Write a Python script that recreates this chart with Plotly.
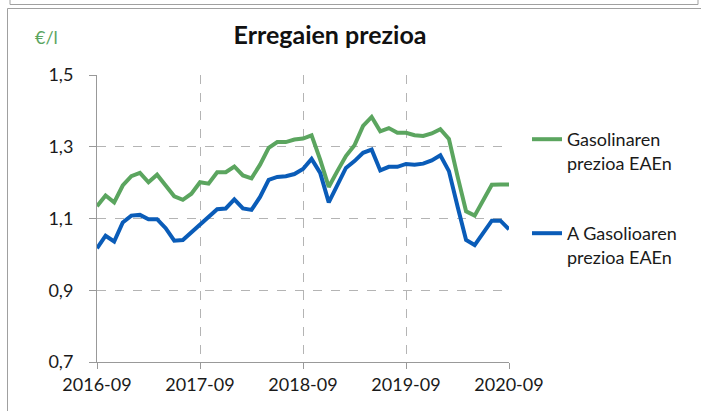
import plotly.graph_objects as go

months = [f"{2016 + (8 + i) // 12}-{(8 + i) % 12 + 1:02d}" for i in range(49)]
tick_labels = ["2016-09", "2017-09", "2018-09", "2019-09", "2020-09"]

gasolina = [1.134, 1.164, 1.145, 1.192, 1.218, 1.227, 1.201, 1.222, 1.192, 1.162,
            1.152, 1.169, 1.201, 1.197, 1.229, 1.229, 1.245, 1.220, 1.212, 1.250,
            1.297, 1.313, 1.313, 1.320, 1.323, 1.332, 1.264, 1.188, 1.232, 1.274,
            1.304, 1.358, 1.383, 1.343, 1.352, 1.339, 1.339, 1.332, 1.330, 1.337,
            1.349, 1.322, 1.218, 1.120, 1.108, 1.152, 1.194, 1.195, 1.195]
gasolioa = [1.017, 1.052, 1.036, 1.089, 1.108, 1.110, 1.098, 1.098, 1.073, 1.038,
            1.040, 1.061, 1.084, 1.104, 1.126, 1.128, 1.153, 1.128, 1.124, 1.160,
            1.208, 1.216, 1.218, 1.224, 1.238, 1.266, 1.227, 1.145, 1.192, 1.241,
            1.260, 1.283, 1.292, 1.234, 1.244, 1.244, 1.252, 1.250, 1.253, 1.262,
            1.276, 1.232, 1.134, 1.040, 1.026, 1.062, 1.094, 1.094, 1.070]

GREEN = "#5ba55f"
BLUE = "#0a5cb8"
FONT = "Lato"

idx = list(range(len(months)))
tick_idx = [months.index(t) for t in tick_labels]

fig = go.Figure()
fig.add_trace(go.Scatter(x=idx, y=gasolina, mode="lines",
                         name="Gasolinaren<br>prezioa EAEn", showlegend=True,
                         line=dict(color=GREEN, width=4), legend="legend"))
fig.add_trace(go.Scatter(x=idx, y=gasolioa, mode="lines",
                         name="A Gasolioaren<br>prezioa EAEn", showlegend=True,
                         line=dict(color=BLUE, width=4), legend="legend2"))

grid = dict(showgrid=True, gridcolor="#b4b4b4", gridwidth=1, griddash="dash")

L, T, W, H = 97, 75, 412, 287


def px(x):
    return (x - L) / W


def py(y):
    return 1 - (y - T) / H


fig.update_layout(
    width=701, height=411,
    margin=dict(l=L, r=701 - L - W, t=T, b=411 - T - H),
    paper_bgcolor="white", plot_bgcolor="white",
    separators=",.",
    showlegend=True,
    font=dict(family=FONT, size=18, color="#1a1a1a"),
    title=dict(text="<b>Erregaien prezioa</b>", x=330 / 701, xanchor="center",
               y=1 - 35 / 411, yanchor="middle",
               font=dict(family=FONT, size=25, color="#111111")),
    xaxis=dict(range=[0, 48], automargin=False,
               tickmode="array", tickvals=tick_idx, ticktext=tick_labels,
               ticks="outside", ticklen=6, tickcolor="#999999",
               showline=True, linecolor="#999999", linewidth=1, zeroline=False,
               tickfont=dict(size=18), **grid),
    yaxis=dict(range=[0.7, 1.5], dtick=0.2, tick0=0.7, tickformat=".1f",
               automargin=False, ticklabelstandoff=12,
               ticks="outside", ticklen=7, tickcolor="#999999",
               showline=True, linecolor="#999999", linewidth=1,
               zeroline=False, tickfont=dict(size=18), **grid),
    legend=dict(x=px(527), y=py(121), xanchor="left", yanchor="top",
                valign="top", font=dict(size=18), bgcolor="rgba(0,0,0,0)"),
    legend2=dict(x=px(527), y=py(215), xanchor="left", yanchor="top",
                 valign="top", font=dict(size=18), bgcolor="rgba(0,0,0,0)"),
    annotations=[dict(text="€/l", xref="paper", yref="paper",
                      x=px(46), y=py(37),
                      xanchor="center", yanchor="middle", showarrow=False,
                      font=dict(family=FONT, size=18, color=GREEN))],
    shapes=[
        dict(type="line", xref="paper", yref="paper", layer="above",
             x0=px(10), x1=px(698), y0=py(4.5), y1=py(4.5),
             line=dict(color="#a0a0a0", width=1)),
        dict(type="line", xref="paper", yref="paper",
             x0=px(10), x1=px(10), y0=py(4.5), y1=py(0),
             line=dict(color="#a0a0a0", width=1)),
        dict(type="line", xref="paper", yref="paper",
             x0=px(698), x1=px(698), y0=py(4.5), y1=py(0),
             line=dict(color="#a0a0a0", width=1)),
        dict(type="line", xref="paper", yref="paper",
             x0=px(7.5), x1=px(701), y0=py(8.5), y1=py(8.5),
             line=dict(color="#a0a0a0", width=1)),
        dict(type="line", xref="paper", yref="paper",
             x0=px(7.5), x1=px(7.5), y0=py(8.5), y1=py(411),
             line=dict(color="#a0a0a0", width=1)),
    ],
)

fig.write_html("out.html", config={"displayModeBar": False},
               post_script="document.body.style.margin='0';"
                           "document.body.style.overflow='hidden';")
